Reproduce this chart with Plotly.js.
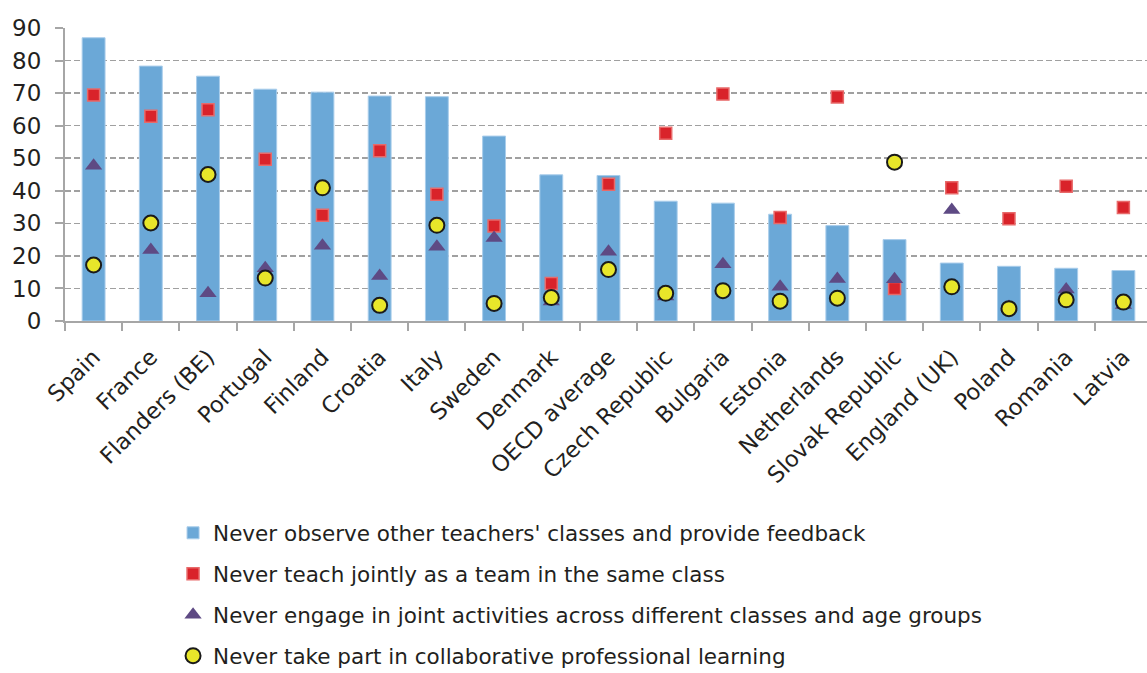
<!DOCTYPE html>
<html>
<head>
<meta charset="utf-8">
<script src="https://cdn.plot.ly/plotly-3.0.1.min.js"></script>
<style>
html,body{margin:0;padding:0;overflow:hidden;background:#fff;}
#chart{width:1152px;height:700px;}
</style>
</head>
<body>
<div id="chart"></div>
<script>
const countries = ["Spain","France","Flanders (BE)","Portugal","Finland","Croatia","Italy","Sweden","Denmark","OECD average","Czech Republic","Bulgaria","Estonia","Netherlands","Slovak Republic","England (UK)","Poland","Romania","Latvia"];
const neverObserve = [87.0,78.3,75.2,71.2,70.3,69.1,68.9,56.8,44.9,44.7,36.8,36.2,32.8,29.3,25.0,17.8,16.8,16.2,15.5];
const neverTeachJointly = [69.4,62.9,64.9,49.7,32.5,52.3,38.9,29.2,11.5,42.0,57.7,69.7,31.8,68.8,10.0,40.9,31.4,41.4,34.9];
const neverJointActivities = [47.7,21.8,8.5,16.2,23.1,13.8,22.8,25.5,6.0,21.3,7.5,17.4,10.5,12.9,12.8,34.1,4.3,9.7,4.9];
const neverCollabLearning = [17.2,30.1,45.0,13.2,40.9,4.8,29.4,5.4,7.2,15.8,8.5,9.3,6.1,7.0,48.8,10.5,3.8,6.5,5.8];
const seriesNames = [
  "Never observe other teachers' classes and provide feedback",
  "Never teach jointly as a team in the same class",
  "Never engage in joint activities across different classes and age groups",
  "Never take part in collaborative professional learning"
];
const yTicks = [0,10,20,30,40,50,60,70,80,90];

const font = "DejaVu Sans, Verdana, sans-serif";
const textColor = "#231F20";
const traces = [
  {type:"bar", x:countries, y:neverObserve, name:seriesNames[0], legendgroup:"a",
   marker:{color:"#6BA8D7", line:{color:"#A9CDEB", width:1}}, width:0.4},
  {type:"scatter", mode:"markers", x:countries, y:neverTeachJointly, name:seriesNames[1], legendgroup:"b",
   marker:{symbol:"square", size:12, color:"#D9232A", line:{color:"#E86A6A", width:1.5}}},
  {type:"scatter", mode:"markers", x:countries, y:neverJointActivities, name:seriesNames[2], legendgroup:"c",
   marker:{symbol:"triangle-up", size:15, color:"#5E4A84", line:{width:0}}},
  {type:"scatter", mode:"markers", x:countries, y:neverCollabLearning, name:seriesNames[3], legendgroup:"d",
   marker:{symbol:"circle", size:15, color:"#E8E62A", line:{color:"#1a1a1a", width:2}}}
];
const layout = {
  width:1152, height:700,
  margin:{l:65, r:0, t:28, b:379},
  paper_bgcolor:"#fff", plot_bgcolor:"#fff",
  font:{family:font, size:22, color:textColor},
  showlegend:true,
  legend:{x:0.0994, y:-0.653, xanchor:"left", yanchor:"top", orientation:"v",
          tracegroupgap:10, font:{family:font, size:21.5, color:textColor}, bgcolor:"rgba(0,0,0,0)"},
  bargap:0.6,
  xaxis:{type:"category", range:[-0.5,18.5], tickangle:-45, showline:true, linecolor:"#A6A6A6", linewidth:2,
         ticks:"outside", tickson:"boundaries", ticklen:8, tickcolor:"#A6A6A6", tickwidth:2,
         showgrid:false, tickfont:{family:font, size:22.5, color:textColor}, ticklabelstandoff:12, automargin:false},
  yaxis:{range:[0,90], tickvals:yTicks, showline:true, linecolor:"#A6A6A6", linewidth:2,
         ticks:"outside", ticklen:8, tickcolor:"#A6A6A6", tickwidth:2,
         showgrid:true, gridcolor:"#A0A0A0", gridwidth:1.5, griddash:"6px,3px",
         zeroline:false, tickfont:{family:font, size:23, color:textColor}, ticklabelstandoff:9, automargin:false}
};
Plotly.newPlot("chart", traces, layout, {displayModeBar:false, staticPlot:true});
</script>
</body>
</html>
